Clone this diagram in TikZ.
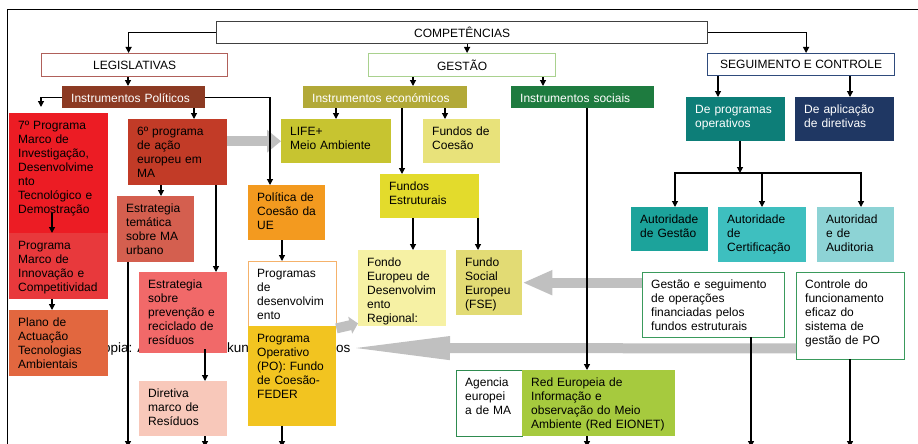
\documentclass[tikz,border=0pt]{standalone}
\usepackage{fontspec}
\setmainfont{Liberation Sans}
\usetikzlibrary{arrows.meta}

\definecolor{cComp}{HTML}{404040}
\definecolor{cLegis}{HTML}{B0605A}
\definecolor{cGest}{HTML}{A9D18E}
\definecolor{cSeg}{HTML}{2F4B7C}
\definecolor{cPolit}{HTML}{8C3A23}
\definecolor{cEcon}{HTML}{B2A938}
\definecolor{cSoc}{HTML}{1E7B3F}
\definecolor{cDeProg}{HTML}{0D7E78}
\definecolor{cDeApl}{HTML}{1F3763}
\definecolor{cPsete}{HTML}{EC1C24}
\definecolor{cPmi}{HTML}{E8393C}
\definecolor{cPlano}{HTML}{E2673F}
\definecolor{cPseis}{HTML}{C23B27}
\definecolor{cEt}{HTML}{D45F4F}
\definecolor{cEp}{HTML}{F16969}
\definecolor{cDir}{HTML}{F8C8BA}
\definecolor{cLife}{HTML}{C7C430}
\definecolor{cCoes}{HTML}{E8E27A}
\definecolor{cPolCoes}{HTML}{F39A1F}
\definecolor{cProgDes}{HTML}{F5B26B}
\definecolor{cPO}{HTML}{F2C420}
\definecolor{cEstrut}{HTML}{E3DB2C}
\definecolor{cFeder}{HTML}{F6F1A4}
\definecolor{cFse}{HTML}{E2DB74}
\definecolor{cAgen}{HTML}{2E8B4F}
\definecolor{cRed}{HTML}{A6CA3E}
\definecolor{cAg}{HTML}{1CA39B}
\definecolor{cAc}{HTML}{3EBFBF}
\definecolor{cAa}{HTML}{8DD3D5}
\definecolor{cGs}{HTML}{3A9A5C}
\definecolor{cBand}{HTML}{C0C0C0}

\begin{document}
\begin{tikzpicture}[>={Triangle[length=6pt,width=6pt]},x=1pt,y=-1pt,
  every node/.style={font=\fontsize{12}{14}\selectfont},
  hd/.style={draw,line width=1.2pt,anchor=north west,inner sep=0pt},
  box/.style 2 args={anchor=north west,inner sep=0pt,align=left,
    text width=#1pt,text height=16pt,text depth={#2pt-16pt},
    execute at begin node={\leftskip=9pt\relax}},
  src/.style={anchor=base west,inner sep=0pt,font=\fontsize{13.5}{14}\selectfont},
  link/.style={->,line width=1.2pt},
  band/.style 2 args={draw=cBand,line width=10pt,-{Triangle[length=#1pt,width=#2pt]}}]
  \useasboundingbox (0,0) rectangle (918,444);
  \draw[line width=0.8pt] (918,9) -| (7,450);
  \coordinate (bot) at (0,447);
  \coordinate (hub) at (740,173);
  \coordinate (tipA) at (345,348);

  \node[src] (srca) at (103,352) {opia: A};
  \node[src] (srcb) at (227,352) {kun};

  \node[hd,draw=cComp,minimum width=491pt,minimum height=22pt] (comp) at (216,21) {COMPETÊNCIAS};
  \node[hd,draw=cLegis,minimum width=186pt,minimum height=23pt] (legis) at (41,53) {LEGISLATIVAS};
  \node[hd,draw=cGest,minimum width=187pt,minimum height=23pt] (gest) at (368,53) {GESTÃO};
  \node[hd,draw=cSeg,minimum width=187pt,minimum height=22pt] (seg) at (707,53) {SEGUIMENTO E CONTROLE};

  \node[box={143}{22},fill=cPolit,text=white] (polit) at (62,86) {Instrumentos Políticos};
  \node[box={164}{22},fill=cEcon,text=white] (econ) at (303,86) {Instrumentos económicos};
  \node[box={143}{22},fill=cSoc,text=white] (soc) at (511,86) {Instrumentos sociais};
  \node[box={99}{44},fill=cDeProg,text=white] (deprog) at (686,97) {De programas\\operativos};
  \node[box={99}{44},fill=cDeApl,text=white] (deapl) at (795,97) {De aplicação\\de diretivas};

  \node[box={99}{120},fill=cPsete] (psete) at (9,113) {7º Programa\\Marco de\\Investigação,\\Desenvolvime\\nto\\Tecnológico e\\Demostração};
  \node[box={99}{66},fill=cPmi] (pmi) at (9,233) {Programa\\Marco de\\Innovação e\\Competitividad};
  \node[box={99}{66},fill=cPlano] (plano) at (9,310) {Plano de\\Actuação\\Tecnologias\\Ambientais};
  \node[box={99}{66},fill=cPseis] (pseis) at (128,119) {6º programa\\de ação\\europeu em\\MA};
  \node[box={77}{66},fill=cEt] (et) at (117,196) {Estrategia\\temática\\sobre MA\\urbano};
  \node[box={88}{81},fill=cEp] (ep) at (139,272) {Estrategia\\sobre\\prevenção e\\reciclado de\\resíduos};
  \node[box={88}{55},fill=cDir] (dir) at (139,381) {Diretiva\\marco de\\Resíduos};

  \node[box={110}{44},fill=cLife] (life) at (281,119) {LIFE+\\Meio Ambiente};
  \node[box={77}{44},fill=cCoes] (coes) at (423,119) {Fundos de\\Coesão};
  \node[box={77}{55},fill=cPolCoes] (polcoes) at (248,185) {Política de\\Coesão da\\UE};
  \node[box={88}{65},fill=white,draw=cProgDes] (progdes) at (248,261) {Programas\\de\\desenvolvim\\ento};
  \node[box={88}{100},fill=cPO] (po) at (248,326) {Programa\\Operativo\\(PO): Fundo\\de Coesão-\\FEDER};
  \node[box={99}{44},fill=cEstrut] (estrut) at (380,174) {Fundos\\Estruturais};
  \node[box={88}{76},fill=cFeder] (feder) at (358,250) {Fondo\\Europeu de\\Desenvolvim\\ento\\Regional:};
  \node[box={66}{65},fill=cFse] (fse) at (456,250) {Fundo\\Social\\Europeu\\(FSE)};
  \node[box={66}{66},fill=white,draw=cAgen] (agen) at (456,370) {Agencia\\europei\\a de MA};
  \node[box={153}{66},fill=cRed] (red) at (522,370) {Red Europeia de\\Informação e\\observação do Meio\\Ambiente (Red EIONET)};

  \node[box={77}{44},fill=cAg] (ag) at (631,207) {Autoridade\\de Gestão};
  \node[box={88}{55},fill=cAc] (ac) at (718,207) {Autoridade\\de\\Certificação};
  \node[box={77}{55},fill=cAa] (aa) at (817,207) {Autoridad\\e de\\Auditoria};
  \node[box={142}{65},fill=white,draw=cGs] (gs) at (642,272) {Gestão e seguimento\\de operações\\financiadas pelos\\fundos estruturais};
  \node[box={108}{87},fill=white,draw=cGs] (cf) at (796,272) {Controle do\\funcionamento\\eficaz do\\sistema de\\gestão de PO};

  \draw[band={14}{22}] (pseis.east |- life.west) -- (life.west);
  \draw[band={30}{23}] (gs.west |- fse.east) -- (fse.east);
  \draw[band={8}{17}] ([yshift=-2pt]progdes.south east) -- ([yshift=3pt]feder.south west);
  \draw[band={105}{21}] ([yshift=11pt]cf.south west) -- (tipA);
  \node[src] (srcc) at (336,352) {os};

  \draw[link] (comp.west) -| ([xshift=-6pt]legis.north);
  \draw[link] ([xshift=5pt]comp.south) -- ([xshift=5pt]gest.north);
  \draw[link] (comp.east) -| ([xshift=5pt]seg.north);
  \draw[link,shorten >=6pt] (polit.west) -| ([xshift=32pt]psete.north west);
  \draw[link] (polit.east) -| ([xshift=22pt]polcoes.north west);
  \draw[link] ([xshift=43pt,yshift=20pt]psete.south west) -- ([xshift=43pt]pmi.north west);
  \draw[link] ([xshift=66pt,yshift=4pt]ep.south west) -- ([xshift=66pt]dir.north west);
  \foreach \src/\dx/\dst in {legis/87/polit,polit/132/pseis,pmi/43/plano,pseis/33/et,pseis/88/ep,
      polcoes/34/progdes,gest/45/econ,gest/175/soc,econ/33/life,econ/99/estrut,econ/142/coes,
      estrut/33/feder,estrut/98/fse,soc/76/red,seg/11/deprog,seg/143/deapl}
    \draw[link] ([xshift=\dx pt]\src.south west) -- ([xshift=\dx pt]\src.south west |- \dst.north);
  \foreach \src/\dx in {et/11,dir/66,po/34,red/65,gs/109,cf/54}
    \draw[link] ([xshift=\dx pt]\src.south west) -- ([xshift=\dx pt]\src.south west |- bot);
  \draw[link] ([xshift=54pt]deprog.south west) -- (hub);
  \draw[link] (hub) -| ([xshift=44pt]ag.north west);
  \draw[link] (hub) -| ([xshift=44pt]aa.north west);
  \draw[link] ([xshift=44pt]ac.north west |- hub) -- ([xshift=44pt]ac.north west);
\end{tikzpicture}
\end{document}
